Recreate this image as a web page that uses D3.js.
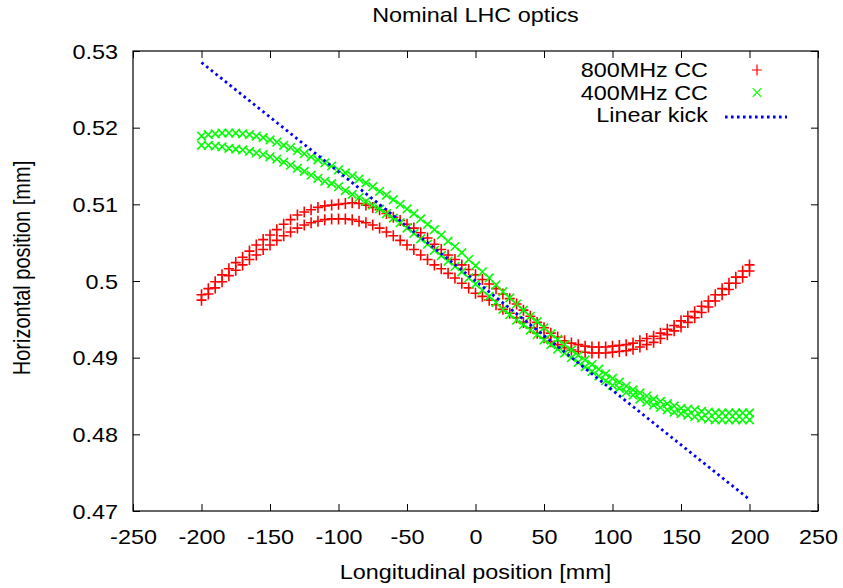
<!DOCTYPE html>
<html>
<head>
<meta charset="utf-8">
<script src="https://cdn.jsdelivr.net/npm/d3@7/dist/d3.min.js"></script>
<style>
  body { margin: 0; background: #fff; }
  text { font-family: "Liberation Sans", Arial, sans-serif; fill: #000; }
</style>
</head>
<body>
<div id="chart"></div>
<script>
// longitudinal positions of the read samples [mm]
const samplePos = [-200, -195, -190, -185, -180, -175, -170, -165, -160, -155, -150, -145, -140, -135, -130, -125, -120, -115, -110, -105,
  -100, -95, -90, -85, -80, -75, -70, -65, -60, -55, -50, -45, -40, -35, -30, -25, -20, -15, -10, -5,
  0, 5, 10, 15, 20, 25, 30, 35, 40, 45, 50, 55, 60, 65, 70, 75, 80, 85, 90, 95,
  100, 105, 110, 115, 120, 125, 130, 135, 140, 145, 150, 155, 160, 165, 170, 175, 180, 185, 190, 195, 200];

// 800MHz CC, upper and lower branch [mm]
const cc800Upper = [0.4982, 0.4990, 0.4999, 0.5008, 0.5016, 0.5024, 0.5031, 0.5039, 0.5047, 0.5054, 0.5060, 0.5067, 0.5074, 0.5080, 0.5086, 0.5090, 0.5093, 0.5096, 0.5098, 0.5099,
  0.5100, 0.5101, 0.5102, 0.5101, 0.5099, 0.5096, 0.5093, 0.5088, 0.5083, 0.5079, 0.5074, 0.5069, 0.5063, 0.5056, 0.5048, 0.5041, 0.5034, 0.5028, 0.5021, 0.5015,
  0.5008, 0.5002, 0.4996, 0.4990, 0.4983, 0.4977, 0.4970, 0.4962, 0.4954, 0.4946, 0.4939, 0.4932, 0.4927, 0.4922, 0.4919, 0.4917, 0.4915, 0.4914, 0.4914, 0.4914,
  0.4915, 0.4916, 0.4917, 0.4919, 0.4922, 0.4925, 0.4928, 0.4932, 0.4937, 0.4942, 0.4948, 0.4954, 0.4960, 0.4967, 0.4974, 0.4982, 0.4990, 0.4997, 0.5005, 0.5013, 0.5021];
const cc800Lower = [0.4975, 0.4983, 0.4991, 0.4999, 0.5007, 0.5014, 0.5021, 0.5028, 0.5034, 0.5041, 0.5047, 0.5053, 0.5059, 0.5064, 0.5069, 0.5073, 0.5076, 0.5078, 0.5080, 0.5081,
  0.5081, 0.5081, 0.5080, 0.5078, 0.5076, 0.5073, 0.5069, 0.5064, 0.5059, 0.5053, 0.5047, 0.5041, 0.5034, 0.5028, 0.5021, 0.5016, 0.5010, 0.5004, 0.4997, 0.4991,
  0.4984, 0.4980, 0.4975, 0.4969, 0.4963, 0.4958, 0.4952, 0.4946, 0.4939, 0.4932, 0.4926, 0.4921, 0.4917, 0.4913, 0.4910, 0.4908, 0.4907, 0.4906, 0.4906, 0.4906,
  0.4907, 0.4908, 0.4909, 0.4911, 0.4914, 0.4917, 0.4920, 0.4925, 0.4930, 0.4935, 0.4940, 0.4946, 0.4952, 0.4959, 0.4966, 0.4974, 0.4982, 0.4989, 0.4997, 0.5005, 0.5013];

// 400MHz CC, upper and lower branch [mm]
const cc400Upper = [0.5189, 0.5191, 0.5192, 0.5193, 0.5193, 0.5193, 0.5192, 0.5191, 0.5189, 0.5187, 0.5184, 0.5181, 0.5177, 0.5174, 0.5170, 0.5166, 0.5162, 0.5158, 0.5154, 0.5150,
  0.5145, 0.5141, 0.5137, 0.5133, 0.5128, 0.5123, 0.5117, 0.5112, 0.5106, 0.5100, 0.5094, 0.5088, 0.5081, 0.5074, 0.5067, 0.5060, 0.5052, 0.5045, 0.5037, 0.5028,
  0.5020, 0.5012, 0.5004, 0.4995, 0.4986, 0.4978, 0.4970, 0.4962, 0.4954, 0.4947, 0.4939, 0.4931, 0.4924, 0.4917, 0.4910, 0.4903, 0.4897, 0.4891, 0.4885, 0.4879,
  0.4873, 0.4868, 0.4863, 0.4858, 0.4854, 0.4850, 0.4846, 0.4843, 0.4840, 0.4837, 0.4834, 0.4833, 0.4832, 0.4830, 0.4829, 0.4828, 0.4828, 0.4828, 0.4828, 0.4828, 0.4828];
const cc400Lower = [0.5177, 0.5177, 0.5176, 0.5175, 0.5173, 0.5172, 0.5171, 0.5169, 0.5167, 0.5165, 0.5162, 0.5159, 0.5155, 0.5151, 0.5147, 0.5143, 0.5138, 0.5134, 0.5130, 0.5127,
  0.5123, 0.5118, 0.5113, 0.5109, 0.5104, 0.5099, 0.5094, 0.5088, 0.5082, 0.5076, 0.5069, 0.5062, 0.5055, 0.5048, 0.5040, 0.5033, 0.5026, 0.5019, 0.5012, 0.5004,
  0.4996, 0.4988, 0.4980, 0.4972, 0.4963, 0.4956, 0.4949, 0.4943, 0.4936, 0.4930, 0.4923, 0.4917, 0.4911, 0.4906, 0.4900, 0.4894, 0.4888, 0.4882, 0.4876, 0.4870,
  0.4864, 0.4860, 0.4855, 0.4851, 0.4846, 0.4842, 0.4838, 0.4835, 0.4832, 0.4829, 0.4827, 0.4825, 0.4823, 0.4821, 0.4820, 0.4819, 0.4819, 0.4819, 0.4819, 0.4819, 0.4819];

// linear kick
const kickPos = [-200, 200];
const kickVal = [0.5285, 0.4715];

const xTicks = [-250, -200, -150, -100, -50, 0, 50, 100, 150, 200, 250];
const yTicks = [0.47, 0.48, 0.49, 0.5, 0.51, 0.52, 0.53];
const legendLabels = ["800MHz CC", "400MHz CC", "Linear kick"];

const WIDTH = 843;
const HEIGHT = 588;
const MARGIN = { top: 51, right: 25, bottom: 77, left: 133 };
const SX = 1.17; // the original picture is stretched sideways

const svg = d3.select("#chart")
  .append("svg")
  .attr("width", WIDTH)
  .attr("height", HEIGHT);

svg.append("rect").attr("width", WIDTH).attr("height", HEIGHT).attr("fill", "#fff");

const x = d3.scaleLinear().domain([-250, 250]).range([MARGIN.left, WIDTH - MARGIN.right]);
const y = d3.scaleLinear().domain([0.47, 0.53]).range([HEIGHT - MARGIN.bottom, MARGIN.top]);

function stretchedText(px, py, str, anchor, size, rotate) {
  const g = svg.append("g").attr("transform", `translate(${px},${py})` + (rotate ? ` rotate(${rotate})` : ""));
  g.append("text")
    .attr("transform", rotate ? `scale(1,${SX})` : `scale(${SX},1)`)
    .attr("text-anchor", anchor)
    .style("font-size", size + "px")
    .text(str);
  return g;
}

// data
const toPoints = (xs, ys) => xs.map((d, i) => ({ x: d, y: ys[i] }));
const red = toPoints(samplePos, cc800Upper).concat(toPoints(samplePos, cc800Lower));
const green = toPoints(samplePos, cc400Upper).concat(toPoints(samplePos, cc400Lower));

const plus = "M-5,0H5M0,-5.5V5.5";
const cross = "M-4.3,-4.3L4.3,4.3M-4.3,4.3L4.3,-4.3";

svg.append("g").selectAll("path")
  .data(red)
  .enter().append("path")
  .attr("d", plus)
  .attr("transform", d => `translate(${x(d.x)},${y(d.y)})`)
  .attr("stroke", "#ff0000")
  .attr("stroke-width", 1.6)
  .attr("fill", "none");

svg.append("g").selectAll("path")
  .data(green)
  .enter().append("path")
  .attr("d", cross)
  .attr("transform", d => `translate(${x(d.x)},${y(d.y)})`)
  .attr("stroke", "#00ff00")
  .attr("stroke-width", 1.6)
  .attr("fill", "none");

const line = d3.line().x(d => x(d.x)).y(d => y(d.y));
svg.append("path")
  .datum(toPoints(kickPos, kickVal))
  .attr("d", line)
  .attr("fill", "none")
  .attr("stroke", "#0000ff")
  .attr("stroke-width", 2.8)
  .attr("stroke-dasharray", "2.6,3.4");

// axes, ticks inward on all four sides
const bottom = HEIGHT - MARGIN.bottom;
const right = WIDTH - MARGIN.right;

const xAxis = svg.append("g")
  .attr("transform", `translate(0,${bottom})`)
  .call(d3.axisBottom(x).tickValues(xTicks).tickSize(-7).tickSizeOuter(0).tickFormat(d => String(d)));
xAxis.selectAll("text")
  .attr("y", 33).attr("dy", 0)
  .attr("transform", `scale(${SX},1)`)
  .style("font-size", "20px")
  .style("font-family", "Liberation Sans, Arial, sans-serif");

const yAxis = svg.append("g")
  .attr("transform", `translate(${MARGIN.left},0)`)
  .call(d3.axisLeft(y).tickValues(yTicks).tickSize(-7).tickSizeOuter(0).tickFormat(d => String(d)));
yAxis.selectAll("text")
  .attr("x", -15 / SX).attr("dy", "0.35em")
  .attr("transform", `scale(${SX},1)`)
  .style("font-size", "20px")
  .style("font-family", "Liberation Sans, Arial, sans-serif");

svg.append("g")
  .attr("transform", `translate(0,${MARGIN.top})`)
  .call(d3.axisTop(x).tickValues(xTicks).tickSize(-7).tickSizeOuter(0).tickFormat(""));
svg.append("g")
  .attr("transform", `translate(${right},0)`)
  .call(d3.axisRight(y).tickValues(yTicks).tickSize(-7).tickSizeOuter(0).tickFormat(""));

svg.selectAll(".domain").remove();
svg.selectAll(".tick line").attr("stroke", "#000");

svg.append("rect")
  .attr("x", MARGIN.left)
  .attr("y", MARGIN.top)
  .attr("width", right - MARGIN.left)
  .attr("height", bottom - MARGIN.top)
  .attr("fill", "none")
  .attr("stroke", "#000")
  .attr("stroke-width", 1.2);

// titles
stretchedText((MARGIN.left + right) / 2, 22, "Nominal LHC optics", "middle", 20);
stretchedText((MARGIN.left + right) / 2, 579, "Longitudinal position [mm]", "middle", 20);
stretchedText(30, 268, "Horizontal position [mm]", "middle", 20, -90);

// legend
const legX = 708;
const legY = [77, 99.5, 122];
legendLabels.forEach((lab, i) => stretchedText(legX, legY[i], lab, "end", 20));

svg.append("path")
  .attr("d", plus)
  .attr("transform", `translate(757,${legY[0] - 7})`)
  .attr("stroke", "#ff0000").attr("stroke-width", 1.2).attr("fill", "none");
svg.append("path")
  .attr("d", cross)
  .attr("transform", `translate(757,${legY[1] - 7})`)
  .attr("stroke", "#00ff00").attr("stroke-width", 1.2).attr("fill", "none");
svg.append("line")
  .attr("x1", 725).attr("x2", 787)
  .attr("y1", legY[2] - 5).attr("y2", legY[2] - 5)
  .attr("stroke", "#0000ff")
  .attr("stroke-width", 2.8)
  .attr("stroke-dasharray", "2.6,3.4");
</script>
</body>
</html>
